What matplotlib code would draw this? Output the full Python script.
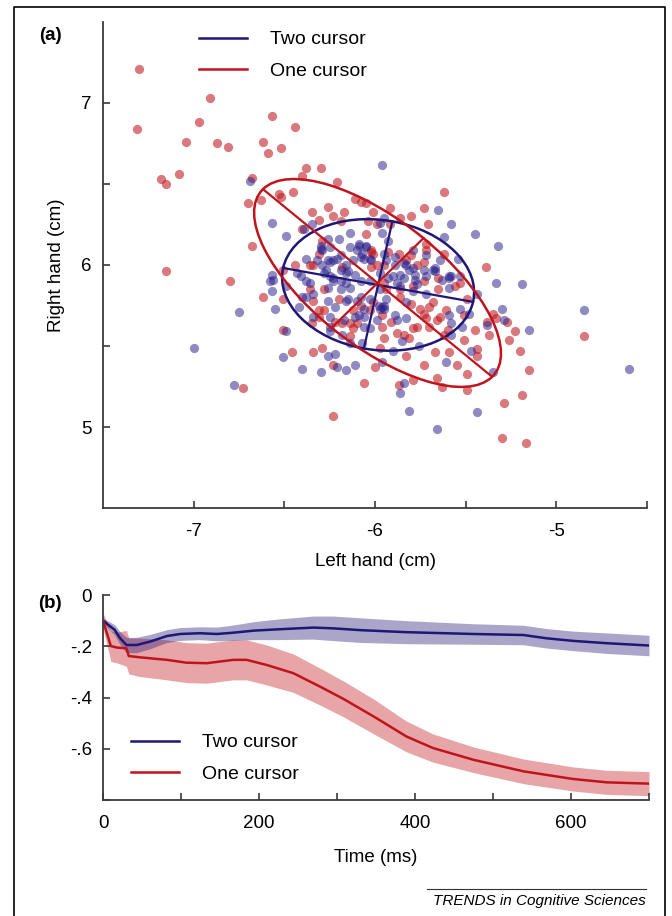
import numpy as np
import matplotlib
matplotlib.use("Agg")
import matplotlib.pyplot as plt
from matplotlib.patches import Ellipse
from matplotlib.lines import Line2D

plt.rcParams['font.family'] = ['Liberation Sans', 'DejaVu Sans']

# ---- panel (a): end-point scatter, one cursor (red) vs two cursor (blue) ----
red_x = [-7.30, -7.31, -6.91, -6.97, -7.04, -6.87, -6.81, -6.57, -6.44, -6.62,
         -6.59, -6.52, -7.18, -7.15, -7.08, -6.38, -6.30, -6.68, -6.40, -6.21,
         -6.70, -6.63, -6.53, -6.52, -6.45, -7.15, -6.68, -6.26, -6.11, -6.08,
         -6.05, -6.01, -6.35, -6.31, -6.17, -6.23, -6.19, -6.04, -5.99, -6.40,
         -6.05, -6.02, -6.51, -6.44, -6.36, -6.02, -5.62, -5.73, -5.80, -5.71,
         -5.92, -5.86, -5.72, -5.72, -5.39, -5.87, -5.77, -5.65, -5.73, -4.85,
         -5.23, -5.27, -5.35, -5.38, -6.62, -6.51, -6.35, -6.46, -6.34, -6.29,
         -6.23, -6.06, -6.00, -6.73, -6.23, -6.31, -6.12, -6.14, -6.18, -6.08,
         -6.28, -6.34, -6.28, -6.01, -5.96, -5.86, -5.65, -5.56, -5.49, -5.68,
         -5.61, -5.75, -5.91, -5.79, -5.70, -5.62, -5.45, -5.33, -5.37, -5.95,
         -5.81, -5.67, -5.59, -5.44, -5.55, -5.49, -5.83, -5.73, -5.66, -5.79,
         -5.87, -5.63, -5.49, -5.29, -5.19, -5.20, -5.26, -5.30, -5.17, -5.15,
         -6.80, -6.51, -6.02, -5.99, -5.95, -6.31, -6.29, -6.12, -6.14, -6.22,
         -6.20, -5.79, -5.73, -5.83, -5.93, -5.92, -5.96, -5.72, -5.64, -5.51,
         -5.84, -5.97, -6.01, -5.94, -5.86, -5.80, -5.73, -5.66, -5.60, -5.51,
         -5.44, -5.70, -5.77, -5.88, -6.03, -6.10, -6.31, -6.36, -6.34, -6.18,
         -5.95, -5.80, -5.62, -5.53]
red_y = [7.21, 6.84, 7.03, 6.88, 6.76, 6.75, 6.73, 6.92, 6.85, 6.76,
         6.69, 6.72, 6.53, 6.50, 6.56, 6.60, 6.60, 6.54, 6.55, 6.51,
         6.38, 6.40, 6.44, 6.42, 6.45, 5.96, 6.12, 6.36, 6.41, 6.39,
         6.38, 6.33, 6.33, 6.28, 6.33, 6.30, 6.27, 6.27, 6.25, 6.22,
         6.19, 6.09, 5.97, 6.00, 6.00, 5.99, 6.45, 6.35, 6.30, 6.25,
         6.35, 6.29, 6.13, 6.09, 5.99, 6.07, 6.00, 5.92, 5.90, 5.56,
         5.59, 5.65, 5.70, 5.65, 5.80, 5.79, 5.64, 5.46, 5.46, 5.49,
         5.38, 5.27, 5.37, 5.24, 5.07, 5.68, 5.61, 5.56, 5.64, 5.75,
         5.72, 5.78, 5.85, 5.77, 5.62, 5.85, 5.85, 5.87, 5.79, 5.77,
         5.72, 5.73, 5.65, 5.61, 5.62, 5.57, 5.60, 5.67, 5.57, 5.55,
         5.55, 5.46, 5.46, 5.44, 5.38, 5.33, 5.44, 5.38, 5.30, 5.29,
         5.26, 5.25, 5.23, 5.15, 5.20, 5.47, 5.54, 4.93, 4.90, 5.35,
         5.90, 5.60, 6.08, 6.00, 5.89, 6.07, 6.15, 5.72, 5.64, 5.65,
         5.79, 5.87, 6.02, 6.03, 6.08, 6.25, 5.69, 5.67, 5.68, 5.69,
         5.57, 5.49, 6.07, 5.85, 5.80, 5.76, 5.70, 5.66, 5.60, 5.54,
         5.48, 5.74, 5.62, 5.58, 5.72, 5.64, 5.72, 5.85, 6.00, 5.99,
         6.00, 6.06, 6.07, 5.89]

blue_x = [-6.69, -6.57, -6.49, -6.39, -6.35, -5.96, -6.30, -6.26, -6.20, -6.14,
          -6.09, -6.05, -6.38, -6.26, -6.21, -6.08, -6.02, -6.16, -6.11, -6.29,
          -6.56, -6.57, -6.38, -6.25, -6.19, -6.03, -5.65, -5.58, -5.95, -5.45,
          -5.62, -5.32, -5.54, -5.64, -5.79, -5.93, -5.96, -5.68, -5.59, -5.53,
          -5.83, -5.86, -5.94, -5.78, -5.33, -5.19, -4.85, -5.15, -5.30, -4.60,
          -6.75, -6.57, -6.55, -6.49, -6.51, -6.26, -6.22, -6.40, -6.30, -6.21,
          -6.16, -6.11, -6.25, -6.25, -6.18, -6.07, -6.11, -6.06, -6.03, -6.16,
          -6.22, -6.34, -6.40, -6.42, -6.26, -6.14, -5.98, -6.14, -5.94, -5.79,
          -5.72, -5.44, -5.53, -5.83, -5.89, -5.58, -5.52, -5.58, -5.38, -5.29,
          -5.85, -5.76, -5.47, -5.35, -5.61, -5.84, -5.86, -5.81, -5.44, -5.66,
          -6.78, -7.00, -6.58, -6.14, -6.10, -6.12, -6.06, -6.23, -6.19, -6.15,
          -6.27, -6.23, -6.16, -6.08, -5.97, -6.32, -6.29, -6.41, -6.49, -6.26,
          -6.19, -6.10, -6.03, -6.09, -6.06, -5.97, -5.99, -5.90, -5.88, -5.81,
          -5.73, -5.67, -5.58, -5.63, -5.89, -5.95, -5.97, -5.97, -5.95, -5.86,
          -5.77, -5.83, -5.59, -5.48, -5.90, -5.96, -6.30, -6.25, -6.09, -6.05,
          -6.07, -6.03, -6.19, -6.25, -6.28, -6.23, -6.16, -6.15, -6.08, -5.95,
          -5.89, -5.84, -5.79, -5.72, -5.67, -5.59, -5.59, -5.78, -5.84, -5.93,
          -5.96, -5.88, -6.06, -6.17, -6.25, -6.34, -6.38, -6.36, -6.43, -5.72]
blue_y = [6.52, 6.26, 6.18, 6.22, 6.25, 6.62, 6.10, 6.16, 6.16, 6.20,
          6.12, 6.11, 6.04, 6.03, 6.04, 6.05, 6.03, 6.00, 5.94, 6.00,
          5.91, 5.94, 5.90, 5.93, 5.90, 5.90, 6.34, 6.25, 6.29, 6.19,
          6.17, 6.12, 6.04, 6.03, 6.09, 6.15, 6.20, 5.97, 5.92, 5.93,
          6.00, 5.94, 6.03, 5.94, 5.89, 5.88, 5.72, 5.60, 5.73, 5.36,
          5.71, 5.84, 5.73, 5.59, 5.43, 5.44, 5.45, 5.36, 5.34, 5.37,
          5.35, 5.38, 5.68, 5.59, 5.57, 5.52, 5.68, 5.68, 5.61, 5.78,
          5.74, 5.82, 5.80, 5.74, 5.78, 5.86, 5.75, 5.52, 5.79, 5.84,
          5.82, 5.82, 5.73, 5.67, 5.69, 5.64, 5.62, 5.57, 5.63, 5.66,
          5.53, 5.50, 5.47, 5.34, 5.40, 5.27, 5.21, 5.10, 5.09, 4.99,
          5.26, 5.49, 5.90, 6.11, 6.09, 6.03, 6.04, 6.03, 5.97, 5.96,
          5.97, 5.90, 5.89, 5.90, 5.95, 6.03, 6.09, 5.93, 5.87, 5.86,
          5.85, 5.78, 5.79, 5.69, 5.73, 5.73, 5.66, 5.93, 5.89, 5.97,
          5.97, 5.98, 5.93, 5.91, 6.05, 6.07, 6.26, 5.85, 5.75, 5.87,
          5.88, 5.77, 5.69, 5.70, 5.47, 5.40, 6.12, 6.11, 6.13, 6.12,
          6.07, 6.04, 6.06, 6.02, 5.95, 5.92, 5.95, 5.79, 5.80, 5.73,
          6.00, 6.01, 5.98, 5.93, 5.96, 5.93, 5.86, 5.91, 5.92, 5.92,
          5.74, 5.66, 5.62, 5.66, 5.62, 5.68, 5.80, 5.89, 5.95, 6.06]

# covariance ellipses: centre, half-axes, angle (deg)
blue_centre = (-5.983, 5.877)
blue_axes = (0.534, 0.400)
blue_angle = -11.3
red_centre = (-5.986, 5.889)
red_axes = (0.857, 0.375)
red_angle = -42.5

# ---- panel (b): time course ----
t_two = [0, 15, 22, 30, 43, 60, 82, 99, 124, 146, 167, 193, 223, 270, 295,
         330, 389, 475, 539, 569, 603, 646, 700]
m_two = [-0.10, -0.136, -0.169, -0.195, -0.195, -0.182, -0.160, -0.152, -0.149,
         -0.152, -0.147, -0.139, -0.134, -0.127, -0.130, -0.137, -0.145, -0.152,
         -0.156, -0.169, -0.179, -0.188, -0.197]
e_two = [0.01, 0.02, 0.025, 0.03, 0.03, 0.028, 0.025, 0.025, 0.025, 0.027,
         0.03, 0.035, 0.04, 0.045, 0.048, 0.048, 0.045, 0.04, 0.038, 0.038,
         0.038, 0.04, 0.04]

t_one = [0, 7, 10, 18, 30, 33, 47, 82, 107, 133, 167, 184, 210, 244, 278, 308,
         347, 389, 423, 475, 539, 603, 646, 700]
m_one = [-0.10, -0.169, -0.199, -0.205, -0.208, -0.238, -0.243, -0.253, -0.264,
         -0.266, -0.253, -0.253, -0.273, -0.305, -0.357, -0.405, -0.474, -0.552,
         -0.597, -0.643, -0.688, -0.718, -0.731, -0.736]
e_one = [0.03, 0.05, 0.06, 0.06, 0.07, 0.07, 0.075, 0.078, 0.078, 0.078, 0.078,
         0.078, 0.078, 0.075, 0.072, 0.07, 0.068, 0.06, 0.055, 0.05, 0.048,
         0.047, 0.047, 0.047]

NAVY = '#1f1675'
RED = '#c0141c'
SPINE = '#3a3a3a'

fig = plt.figure(figsize=(6.72, 9.16), dpi=100)


def style_axes(ax):
    for s in ('top', 'right'):
        ax.spines[s].set_visible(False)
    for s in ('left', 'bottom'):
        ax.spines[s].set_color(SPINE)
        ax.spines[s].set_linewidth(1.3)
    ax.tick_params(direction='in', length=5, width=1.2, color=SPINE,
                   labelsize=13.5)
    ax.tick_params(axis='x', pad=11)
    ax.tick_params(axis='y', pad=8)


# %% panel (a)
ax1 = fig.add_axes([0.1533, 0.4454, 0.8095, 0.5306])
ax1.scatter(red_x, red_y, s=44, color='#c0181f', alpha=0.58, linewidths=0)
ax1.scatter(blue_x, blue_y, s=44, color='#2b1f8a', alpha=0.52, linewidths=0)

for centre, (a, b), ang, col in [(blue_centre, blue_axes, blue_angle, NAVY),
                                 (red_centre, red_axes, red_angle, RED)]:
    ax1.add_patch(Ellipse(centre, 2 * a, 2 * b, angle=ang, fill=False,
                          edgecolor=col, linewidth=1.8))
    th = np.deg2rad(ang)
    u = np.array([np.cos(th), np.sin(th)])
    v = np.array([-np.sin(th), np.cos(th)])
    c = np.array(centre)
    for vec in (a * u, b * v):
        p0, p1 = c - vec, c + vec
        ax1.plot([p0[0], p1[0]], [p0[1], p1[1]], color=col, lw=1.6)

ax1.set_xlim(-7.5, -4.5)
ax1.set_ylim(4.5, 7.5)
ax1.set_xticks([-7, -6.5, -6, -5.5, -5, -4.5])
ax1.set_xticklabels(['-7', '', '-6', '', '-5', ''])
ax1.set_yticks([5, 5.5, 6, 6.5, 7])
ax1.set_yticklabels(['5', '', '6', '', '7'])
style_axes(ax1)
ax1.set_xlabel('Left hand (cm)', fontsize=13.5, labelpad=9)
ax1.set_ylabel('Right hand (cm)', fontsize=13.5, labelpad=12)

leg1 = [Line2D([0], [0], color=NAVY, lw=1.8), Line2D([0], [0], color=RED, lw=1.8)]
ax1.legend(leg1, ['Two cursor', 'One cursor'], loc='upper left',
           bbox_to_anchor=(0.145, 1.018), frameon=False, fontsize=14,
           handlelength=2.47, handletextpad=1.18, labelspacing=0.7)

# %% panel (b)
ax2 = fig.add_axes([0.1533, 0.1266, 0.8125, 0.2238])
lo1 = np.array(m_one) - np.array(e_one)
hi1 = np.array(m_one) + np.array(e_one)
lo2 = np.array(m_two) - np.array(e_two)
hi2 = np.array(m_two) + np.array(e_two)
ax2.fill_between(t_one, lo1, hi1, color=RED, alpha=0.38, linewidth=0)
ax2.fill_between(t_two, lo2, hi2, color=NAVY, alpha=0.38, linewidth=0)
ax2.plot(t_two, m_two, color=NAVY, lw=1.8, label='Two cursor')
ax2.plot(t_one, m_one, color=RED, lw=1.8, label='One cursor')

ax2.set_xlim(0, 700)
ax2.set_ylim(-0.8, 0)
ax2.set_xticks([0, 100, 200, 300, 400, 500, 600, 700])
ax2.set_xticklabels(['0', '', '200', '', '400', '', '600', ''])
ax2.set_yticks([0, -0.2, -0.4, -0.6, -0.8])
ax2.set_yticklabels(['0', '-.2', '-.4', '-.6', ''])
style_axes(ax2)
ax2.set_xlabel('Time (ms)', fontsize=13.5, labelpad=12)
ax2.legend(loc='lower left', bbox_to_anchor=(0.02, 0.0), frameon=False,
           fontsize=14, handlelength=2.47, handletextpad=1.18, labelspacing=0.7)

# panel letters
fig.text(50 / 672, 1 - 35 / 916, '(a)', fontsize=13.5, fontweight='bold',
         ha='center', va='center')
fig.text(50 / 672, 1 - 603 / 916, '(b)', fontsize=13.5, fontweight='bold',
         ha='center', va='center')

# outer frame (left, top, right)
fx0, fx1, fy1 = 14 / 672, 665 / 672, 1 - 7 / 916
fig.add_artist(Line2D([fx0, fx0, fx1, fx1], [0, fy1, fy1, 0],
                      transform=fig.transFigure, color='black', lw=1.2))

# journal footer
fig.add_artist(Line2D([427 / 672, 646 / 672], [1 - 889 / 916, 1 - 889 / 916],
                      transform=fig.transFigure, color='#333333', lw=0.8))
fig.text(646 / 672, 1 - 901 / 916, 'TRENDS in Cognitive Sciences',
         fontsize=11, style='italic', ha='right', va='center')

fig.savefig('out.png', dpi=100)
